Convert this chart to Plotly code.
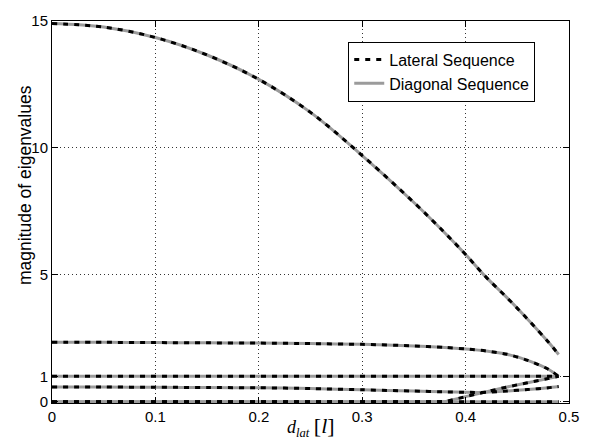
import plotly.graph_objects as go

# lateral displacement d_lat [l]
d_lat = [0.00, 0.05, 0.10, 0.15, 0.20, 0.25, 0.30, 0.35, 0.38, 0.40, 0.42, 0.44, 0.46, 0.48, 0.49]

# eigenvalue magnitudes, one list per branch
eig_1 = [14.90, 14.76, 14.35, 13.66, 12.70, 11.40, 9.70, 7.85, 6.65, 5.80, 4.90, 4.10, 3.25, 2.35, 1.86]
eig_2 = [2.34, 2.34, 2.33, 2.32, 2.31, 2.29, 2.26, 2.20, 2.14, 2.08, 2.00, 1.87, 1.63, 1.28, 1.00]
eig_3 = [1.00, 1.00, 1.00, 1.00, 1.00, 1.00, 1.00, 1.00, 1.00, 1.00, 1.00, 1.00, 1.00, 1.00, 1.00]
eig_4 = [0.58, 0.58, 0.57, 0.56, 0.55, 0.52, 0.47, 0.42, 0.39, 0.37, 0.37, 0.42, 0.48, 0.55, 0.60]
eig_5 = [0.00, 0.00, 0.00, 0.00, 0.00, 0.00, 0.00, 0.00, 0.00, 0.20, 0.40, 0.58, 0.75, 0.91, 1.00]
eig_6 = [0.00, 0.00, 0.00, 0.00, 0.00, 0.00, 0.00, 0.00, 0.00, 0.00, 0.00, 0.00, 0.00, 0.00, 0.00]

# (values, smoothing) per branch; branches with kinks stay piecewise linear
branches = [(eig_1, 1.0), (eig_2, 0.8), (eig_3, 0), (eig_4, 0.5), (eig_5, 0), (eig_6, 0)]

y_ticks = [0, 1, 5, 10, 15]
x_ticks = [0, 0.1, 0.2, 0.3, 0.4, 0.5]
x_tick_text = ["0", "0.1", "0.2", "0.3", "0.4", "0.5"]

GRAY = "#9b9b9b"
FONT = "Liberation Sans, Arial, Helvetica, sans-serif"


def line_style(color, smooth, dash=None):
    style = dict(color=color, width=3)
    if dash:
        style["dash"] = dash
    if smooth:
        style["shape"] = "spline"
        style["smoothing"] = smooth
    return style


fig = go.Figure()

# diagonal sequence: solid gray, drawn underneath
for i, (vals, smooth) in enumerate(branches):
    fig.add_trace(go.Scatter(
        x=d_lat, y=vals, mode="lines",
        line=line_style(GRAY, smooth),
        name="Diagonal Sequence", legendgroup="diag",
        showlegend=(i == 0), legendrank=2,
    ))

# lateral sequence: black dashes on top
for i, (vals, smooth) in enumerate(branches):
    fig.add_trace(go.Scatter(
        x=d_lat, y=vals, mode="lines",
        line=line_style("black", smooth, dash="5px,6px"),
        name="Lateral Sequence", legendgroup="lat",
        showlegend=(i == 0), legendrank=1,
    ))

axis_common = dict(
    showline=True, linecolor="black", linewidth=1, mirror="ticks",
    ticks="inside", ticklen=6, tickcolor="black", tickwidth=1,
    showgrid=True, gridcolor="#333333", gridwidth=1, griddash="1px,3px",
    zeroline=False, tickfont=dict(family=FONT, size=15, color="black"),
)

fig.update_xaxes(range=[0, 0.5], tickvals=x_ticks, ticktext=x_tick_text, **axis_common)
fig.update_yaxes(range=[-0.05, 15], tickvals=y_ticks, **axis_common)

fig.update_layout(
    width=592, height=444, autosize=False,
    margin=dict(l=52, r=23, t=15, b=41),
    paper_bgcolor="white", plot_bgcolor="white",
    font=dict(family=FONT, color="black"),
    legend=dict(
        x=0.573, y=0.946, xanchor="left", yanchor="top",
        bgcolor="white", bordercolor="black", borderwidth=1,
        font=dict(family=FONT, size=16, color="black"),
        traceorder="normal", tracegroupgap=0,
    ),
    annotations=[
        dict(
            text="magnitude of eigenvalues", textangle=-90,
            xref="paper", yref="paper", x=-0.052, y=0.571,
            xanchor="center", yanchor="middle", showarrow=False,
            font=dict(family=FONT, size=17.5, color="black"),
        ),
        dict(
            text='<i>d</i><sub><i>lat</i></sub> <span style="font-size:22px">[<i>l</i>]</span>',
            xref="paper", yref="paper", x=0.5, y=-0.062,
            xanchor="center", yanchor="middle", showarrow=False,
            font=dict(family="Liberation Serif, Times New Roman, serif", size=18, color="black"),
        ),
    ],
)

fig.write_html("out.html")
